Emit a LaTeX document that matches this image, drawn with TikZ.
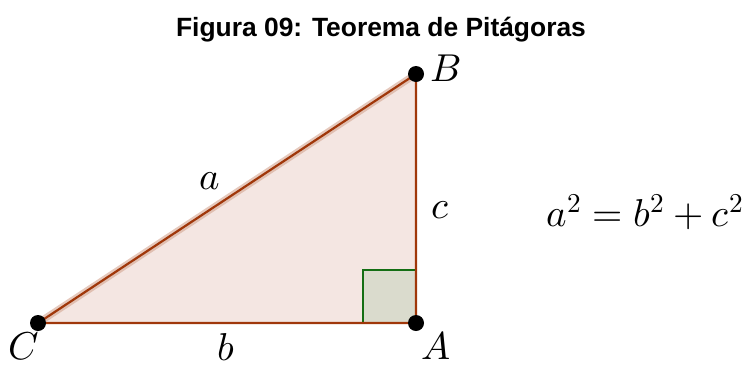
\documentclass[tikz,border=0pt]{standalone}
\usepackage{fontspec}
\setmainfont{Liberation Sans}
\usepackage{unicode-math}
\setmathfont{Latin Modern Math}
\usetikzlibrary{positioning}
\definecolor{tedge}{RGB}{160,55,10}
\definecolor{tfill}{RGB}{244,230,226}
\definecolor{qedge}{RGB}{20,110,20}
\definecolor{qfill}{RGB}{218,219,205}
\tikzset{
  vtx/.style  = {circle, fill=black, inner sep=0pt, minimum size=16bp},
  lbl/.style  = {font=\fontsize{39}{44}\selectfont, inner sep=0pt},
  side/.style = {draw=tedge, line width=2.2bp},
}
\begin{document}
\begin{tikzpicture}[x=1bp,y=-1bp]
\useasboundingbox (0,0) rectangle (746,367);
% title
\node[font=\fontsize{26.5}{30}\selectfont\bfseries] (title) at (381,30) {Figura 09: Teorema de Pitágoras};
% vertices
\coordinate (C) at (38,323);
\coordinate (A) at (416,323);
\coordinate (B) at (416,74);
\fill[tfill] (C) -- (A) -- (B) -- cycle;
% right angle
\filldraw[fill=qfill, draw=qedge, line width=2bp] (416,270) -- (363,270) -- (363,323) -- (416,323);
% sides
\draw[tedge!45, line width=7bp, opacity=0.6] (C) -- (B);
\draw[side] (C) -- (A) -- (B) -- cycle;
\node[vtx] (vC) at (C) {};
\node[vtx] (vA) at (A) {};
\node[vtx] (vB) at (B) {};
% labels
\node[lbl] (lB) at (446,68) {$B$};
\node[lbl] (lA) at (436,346) {$A$};
\node[lbl] (lC) at (24,346) {$C$};
\node[lbl] (la) at (210,181) {$a$};
\node[lbl] (lb) at (226,347) {$b$};
\node[lbl] (lc) at (440,210) {$c$};
\node[lbl, anchor=east] (eq) at (744,212) {$a^2=b^2+c^2$};
\end{tikzpicture}
\end{document}
